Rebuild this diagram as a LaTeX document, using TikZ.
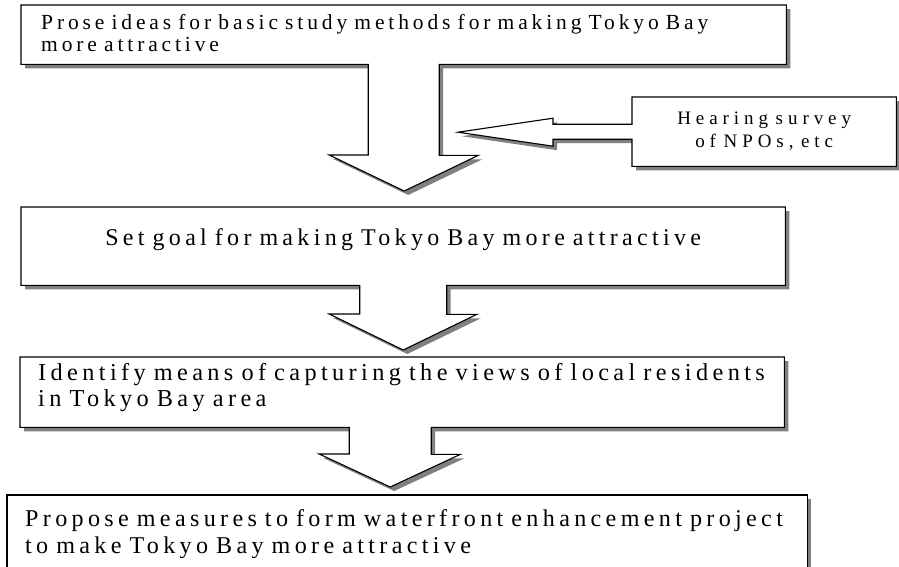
\documentclass[tikz,border=0pt]{standalone}
\usepackage{fontspec}
\setmainfont{Liberation Serif}
\newfontfamily\spaced{Liberation Serif}[LetterSpace=18]
\newfontfamily\spacedwide{Liberation Serif}[LetterSpace=26]
\newcommand\gaps[1]{\spaceskip=#1\relax\xspaceskip=#1\relax}
\usetikzlibrary{calc,shadows,backgrounds}
\definecolor{shade}{gray}{0.5}
\hyphenpenalty=10000
\begin{document}
\begin{tikzpicture}[x=1pt,y=-1pt]
\tikzset{box/.style = {anchor=north west, inner sep=0pt, align=left},
  frame/.style = {draw, line width=1.1pt, fill=white, drop shadow={shadow xshift=4pt, shadow yshift=-4pt, fill=shade, opacity=1}}}
\useasboundingbox (0,0) rectangle (899,566);
\node[box, minimum width=765pt, minimum height=59pt, text width=725pt, text depth=26pt, font=\spaced\fontsize{21.5}{22}\selectfont] (I) at (21,5) {Prose ideas for basic study methods for making Tokyo Bay\\more attractive};
\node[box, align=center, minimum width=264pt, minimum height=69pt, text width=240pt, text depth=26pt, font=\spacedwide\fontsize{19}{23}\selectfont] (hs) at (632,97) {\gaps{0.4em}Hearing survey\\of NPOs, etc};
\node[box, align=center, minimum width=764pt, minimum height=78pt, text width=720pt, text depth=18.4pt, font=\spaced\fontsize{24}{26}\selectfont] (II) at (21,207) {Set goal for making Tokyo Bay more attractive};
\node[box, minimum width=764pt, minimum height=70pt, text width=728pt, text depth=40.6pt, font=\spaced\fontsize{24.3}{26}\selectfont] (III) at (20,357) {Identify means of capturing the views of local residents\\in Tokyo Bay area};
\node[box, minimum width=800pt, minimum height=78pt, text width=764pt, text depth=32.4pt, font=\spaced\fontsize{24.1}{27}\selectfont] (IV) at (7,495) {Propose measures to form waterfront enhancement project\\to make Tokyo Bay more attractive};
\begin{scope}[on background layer]
\draw[frame] (I.north west) -- (I.north east) -- (I.south east) -- ($(I.south)+(35.5,0)$) -- ++(0,91) -- ++(39,0) -- ($(II.north)+(1,-16)$) -- ++(-75,-36) -- ++(39,0) -- ($(I.south)+(-35.5,0)$) -- (I.south west) -- cycle;
\draw[frame] (hs.north west) -- (hs.north east) -- (hs.south east) -- (hs.south west) -- ($(hs.west)+(0,7.5)$) -- ++(-79,0) -- ++(0,7) -- ++(-95,-14) -- ++(95,-14) -- ++(0,6) -- ($(hs.west)+(0,-7.5)$) -- cycle;
\draw[frame] (II.north west) -- (II.north east) -- (II.south east) -- ($(II.south)+(43.5,0)$) -- ++(0,29) -- ++(30,0) -- ($(III.north)+(1,-7)$) -- ++(-74,-36) -- ++(30.5,0) -- ($(II.south)+(-43.5,0)$) -- (II.south west) -- cycle;
\draw[frame] (III.north west) -- (III.north east) -- (III.south east) -- ($(III.south)+(29,0)$) -- ++(0,27) -- ++(29,0) -- ($(IV.north)+(-17,-8)$) -- ++(-71,-33) -- ++(30,0) -- ($(III.south)+(-53,0)$) -- (III.south west) -- cycle;
\draw[frame] (IV.north west) -- (IV.north east) -- (IV.south east) -- (IV.south west) -- cycle;
\end{scope}
\end{tikzpicture}
\end{document}
